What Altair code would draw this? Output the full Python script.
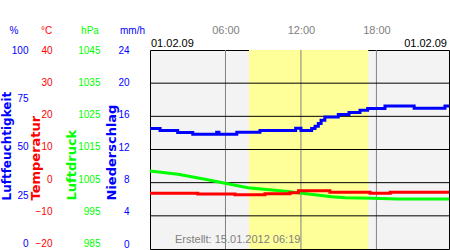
import altair as alt
import pandas as pd

# ---------------- data ----------------
hours_hum = [0, 0.8, 2.2, 3.4, 5.3, 5.48, 6.9, 8.74, 11.58, 12.0, 12.85, 13.12, 13.38,
             13.6, 13.9, 14.97, 15.82, 16.69, 17.3, 18.68, 21.0, 23.45, 23.77]
humidity = [59.4, 58.4, 57.4, 56.5, 57.5, 56.5, 57.5, 58.4, 59.6, 58.4, 59.4, 60.6, 62.0,
            63.7, 65.4, 66.7, 67.7, 68.8, 69.8, 71.0, 69.9, 71.0, 71.0]

hours_temp = [0, 3.8, 6.76, 9.14, 11.13, 11.8, 14.3, 17.5, 19.1, 23.77]
temperature = [-4.43, -4.65, -4.86, -4.55, -4.24, -3.62, -4.12, -4.43, -4.12, -4.12]

hours_pres = [0, 2.23, 4.37, 5.96, 7.79, 9.7, 10.97, 12.08, 14.47, 15.5, 17.65, 19.71, 23.77]
pressure = [1007.5, 1006.5, 1004.9, 1003.7, 1002.3, 1001.6, 1001.1, 1000.6, 999.5,
            999.2, 999.0, 998.8, 998.8]

daylight = [7.87, 17.35]
time_ticks = [6, 12, 18]
hum_ticks = [0, 25, 50, 75, 100]
temp_ticks = [-20, -10, 0, 10, 20, 30, 40]
pres_ticks = [985, 995, 1005, 1015, 1025, 1035, 1045]
rain_ticks = [0, 4, 8, 12, 16, 20, 24]
grid_levels = [4, 8, 12, 16, 20]
date_label = "01.02.09"
created_label = "Erstellt: 15.01.2012 06:19"
units = ["%", "°C", "hPa", "mm/h"]
names = ["Luftfeuchtigkeit", "Temperatur", "Luftdruck", "Niederschlag"]

# ---------------- style ----------------
colors = ["#0000ff", "#ff0000", "#00ff00", "#0000ff"]
W, H = 299, 199
X_END = 23.77
FONT = "Liberation Sans"

xscale = alt.Scale(domain=[0, X_END], nice=False, zero=False)
xaxis = alt.Axis(orient="top", values=time_ticks,
                 labelExpr="(datum.value < 10 ? '0' : '') + datum.value + ':00'",
                 ticks=False, tickSize=0, domain=False, grid=False, labelPadding=15,
                 labelColor="#808080", labelFont=FONT, labelFontSize=11, title=None)


def X(field):
    return alt.X(f"{field}:Q", scale=xscale, axis=xaxis)


def yaxis(i, offset, values, tx, tsize=13):
    return alt.Axis(orient="left", offset=offset, values=values, format="d", ticks=False,
                    tickSize=0, domain=False, grid=False, labelPadding=0, labelColor=colors[i],
                    labelFont=FONT, labelFontSize=10, title=names[i], titleColor=colors[i],
                    titleFont="DejaVu Sans", titleFontSize=tsize, titleFontWeight="bold",
                    titleAngle=270, titleAlign="left", titleBaseline="middle",
                    titleX=tx, titleY=150)


def ysc(lo, hi):
    return alt.Scale(domain=[lo, hi], nice=False, zero=False)


day = alt.Chart(pd.DataFrame({"start": [daylight[0]], "end": [daylight[1]]})).mark_rect(
    color="#ffff99").encode(x=X("start"), x2="end")

vrules = alt.Chart(pd.DataFrame({"h": time_ticks})).mark_rule(
    color="#808080", strokeWidth=1).encode(x=X("h"))

hrules = alt.Chart(pd.DataFrame({"v": grid_levels})).mark_rule(
    color="black", strokeWidth=1).encode(
    y=alt.Y("v:Q", scale=ysc(0, 24), axis=None))

rain_axis = alt.Chart(pd.DataFrame({"v": rain_ticks})).mark_rule(opacity=0).encode(
    y=alt.Y("v:Q", scale=ysc(-0.57, 24), axis=yaxis(3, 21, rain_ticks, -17.5)))

pres_line = alt.Chart(pd.DataFrame({"h": hours_pres, "v": pressure})).mark_line(
    color=colors[2], strokeWidth=3).encode(
    x=X("h"), y=alt.Y("v:Q", scale=ysc(983.3, 1045), axis=yaxis(2, 50, pres_ticks, -29)))

temp_line = alt.Chart(pd.DataFrame({"h": hours_temp, "v": temperature})).mark_line(
    color=colors[1], strokeWidth=3, interpolate="step-after").encode(
    x=X("h"), y=alt.Y("v:Q", scale=ysc(-21.7, 40), axis=yaxis(1, 98, temp_ticks, -16.5)))

hum_line = alt.Chart(pd.DataFrame({"h": hours_hum, "v": humidity})).mark_line(
    color=colors[0], strokeWidth=3, interpolate="step-after").encode(
    x=X("h"), y=alt.Y("v:Q", scale=ysc(-2.9, 100),
                      axis=yaxis(0, 122, hum_ticks, -21.3, 12)))


def label(txt, x, y, color, size=10, align="center"):
    return alt.Chart(pd.DataFrame({"t": [txt]})).mark_text(
        font=FONT, fontSize=size, color=color, align=align, baseline="middle").encode(
        x=alt.value(x), y=alt.value(y), text="t:N")


texts = [
    label(units[0], -136, -19.5, colors[0]),
    label(units[1], -103.5, -19.5, colors[1]),
    label(units[2], -60, -19.5, colors[2]),
    label(units[3], -17.5, -19.5, colors[3]),
    label(date_label, 1, -6.5, "black", 11, "left"),
    label(date_label, 297, -6.5, "black", 11, "right"),
    label(created_label, 25, 190, "#808080", 11, "left"),
]

chart = alt.layer(day, vrules, hrules, rain_axis, pres_line, temp_line, hum_line,
                  *texts).resolve_scale(
    y="independent"
).properties(
    width=W, height=H,
    autosize=alt.AutoSizeParams(type="none"),
    padding={"left": 150, "top": 50, "right": 1, "bottom": 1},
    background="white",
).configure_view(fill="#f3f3f3", stroke="black", strokeWidth=1)

chart.save("out.html", embed_options={"renderer": "svg", "actions": False})
